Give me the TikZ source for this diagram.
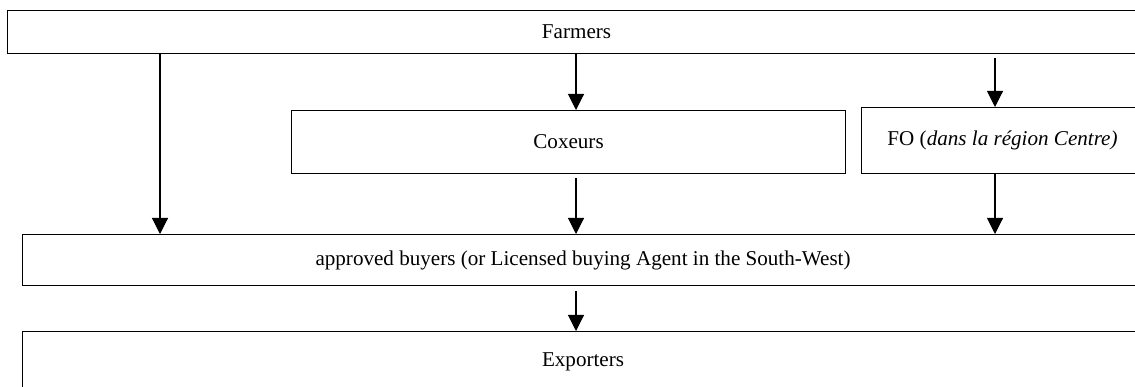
\documentclass[tikz,border=0pt]{standalone}
\usepackage{fontspec}
\setmainfont{Liberation Serif}
\usetikzlibrary{arrows.meta,positioning}
\tikzset{
  chainbox/.style={draw, line width=1.1pt, anchor=north west, inner sep=0pt},
  flow/.style={line width=1.1pt, -{Triangle[width=16pt,length=16pt]}}
}

\begin{document}
\begin{tikzpicture}[x=1pt,y=-1pt, font=\fontsize{21.1}{25}\selectfont]
  \useasboundingbox (0,0) rectangle (1135,387);
  \clip (0,0) rectangle (1135,387);
  % boxes of the chain, the right side runs off the page
  \node[chainbox, minimum width=1138pt, minimum height=43pt] (farmers) at (7,10) {Farmers};
  \node[chainbox, minimum width=554pt, minimum height=63pt] (coxeurs) at (291,110) {Coxeurs};
  \node[chainbox, minimum width=282pt, minimum height=66pt] (fo) at (861,107)
    {FO (\textit{dans la région Centre)}};
  \node[chainbox, minimum width=1121pt, minimum height=51pt] (buyers) at (22,234)
    {approved buyers (or Licensed buying Agent in the South-West)};
  \node[chainbox, minimum width=1121pt, minimum height=61pt] (exporters) at (22,331) {Exporters};

  % columns of the arrows
  \coordinate (colA) at (160,0);
  \coordinate (colB) at (576,0);
  \coordinate (colC) at (995,0);

  \draw[flow] (farmers.south -| colA) -- (buyers.north -| colA);
  \draw[flow] (farmers.south -| colB) -- (coxeurs.north -| colB);
  \draw[flow, shorten <=4pt] (farmers.south -| colC) -- (fo.north -| colC);
  \draw[flow, shorten <=4pt] (coxeurs.south -| colB) -- (buyers.north -| colB);
  \draw[flow] (fo.south -| colC) -- (buyers.north -| colC);
  \draw[flow, shorten <=5pt] (buyers.south -| colB) -- (exporters.north -| colB);
\end{tikzpicture}
\end{document}
